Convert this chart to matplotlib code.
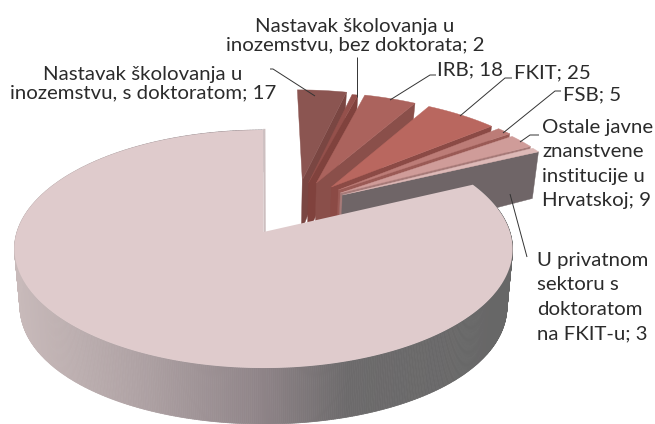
import numpy as np
import matplotlib
matplotlib.use("Agg")
import matplotlib.pyplot as plt
from matplotlib.colors import LinearSegmentedColormap
from matplotlib.collections import PolyCollection

small_labels = ["Nastavak školovanja u\ninozemstvu, s doktoratom; 17",
                "Nastavak školovanja u\ninozemstvu, bez doktorata; 2",
                "IRB; 18", "FKIT; 25", "FSB; 5",
                "Ostale javne\nznanstvene\ninstitucije u\nHrvatskoj; 9",
                "U privatnom\nsektoru s\ndoktoratom\nna FKIT-u; 3"]
small_values = [17, 2, 18, 25, 5, 9, 3]
big_value = 362

# styling
top_colors = ["#8B5551", "#94504B", "#AB635D", "#B9675F", "#BC7C77", "#CF9C99", "#DDB9B7"]
wall_colors = ["#7A4642", "#80423D", "#8A4F4A", "#8B4A45", "#9A5A55", "#A67A78", "#6F6567"]
big_color = "#DFCBCC"
explode_u = [.181, .207, .241, .304, .333, .34, .348]
explode_v = [.476, .447, .447, .408, .38, .351, .332]
big_explode = (0.012, 0.0)

CX, CY, RX, RY, K, SHRINK = 260.5, 232, 246.5, 116.6, 1 / 7, 0.978


def depth(v):
    return 56.1 - 6.97 * v - 7.09 * v * v


def project(u, v, z=0.0):
    u, v = np.asarray(u, float), np.asarray(v, float)
    s = 1 / (1 + K * v)
    return (CX + RX * u * s * (1 - (1 - SHRINK) * z),
            CY - RY * v * s + z * depth(v))


def sector(a0, a1, offset, z=0.0, n=60):
    th = np.radians(np.linspace(a0, a1, n))
    u = np.r_[offset[0], offset[0] + np.cos(th)]
    v = np.r_[offset[1], offset[1] + np.sin(th)]
    return np.column_stack(project(u, v, z))


plt.rcParams["font.family"] = ["Lato", "DejaVu Sans"]
fig = plt.figure(figsize=(6.55, 4.24), dpi=100)
ax = fig.add_axes([0, 0, 1, 1])
ax.set_xlim(0, 655)
ax.set_ylim(424, 0)
ax.axis("off")

total = sum(small_values) + big_value
deg = 360 / total
angle = 90.0
for i, val in enumerate(small_values):
    a0, a1 = angle, angle - val * deg
    off = (explode_u[i], explode_v[i])
    ox, oy = project(off[0], off[1], 0)
    ex, ey = project(off[0] + np.cos(np.radians(a1)), off[1] + np.sin(np.radians(a1)), 0)
    ox2, oy2 = project(off[0], off[1], 1)
    ex2, ey2 = project(off[0] + np.cos(np.radians(a1)), off[1] + np.sin(np.radians(a1)), 1)
    ax.fill([ox, ex, ex2, ox2], [oy, ey, ey2, oy2], color=wall_colors[i], lw=0.3, zorder=2 + i)
    ax.fill(*sector(a0, a1, off).T, color=top_colors[i], lw=0.3, zorder=2 + i)
    angle = a1

# large slice: side wall with gradient, then the top
a_start = angle
a_end = angle - big_value * deg
cmap = LinearSegmentedColormap.from_list(
    "side", [(0, "#C8BABA"), (0.25, "#AFA2A4"), (0.5, "#8F8488"), (0.68, "#6C6A6B"), (1, "#676767")])
ths = np.linspace(a_start, a_end, 720)
polys, cols = [], []
for t0, t1 in zip(ths[:-1], ths[1:]):
    r0, r1 = np.radians(t0), np.radians(t1)
    us = big_explode[0] + np.cos([r0, r1])
    vs = big_explode[1] + np.sin([r0, r1])
    x0, y0 = project(us, vs, 0)
    x1, y1 = project(us, vs, 1)
    polys.append([(x0[0], y0[0]), (x0[1], y0[1]), (x1[1], y1[1]), (x1[0], y1[0])])
    cols.append(cmap((np.mean(x0) - 14) / 493))
ax.add_collection(PolyCollection(polys, facecolors=cols, edgecolors=cols, linewidths=0.5, zorder=20))
ax.fill(*sector(a_start, a_end, big_explode, n=400).T, color=big_color, lw=0, zorder=21)
ex, ey = project([big_explode[0], big_explode[0]], [0, 1])
ax.plot(ex + 1.2, ey, color="#CDBFC0", lw=1.6, zorder=20.5)

# labels
fs = 14.7
col = "#2B2B2B"
ax.text(355, 36, small_labels[1], ha="center", va="center", fontsize=fs, color=col, linespacing=1.1, zorder=30)
ax.text(143, 84, small_labels[0], ha="center", va="center", fontsize=fs, color=col, linespacing=1.1, zorder=30)
ax.text(437, 70, small_labels[2], ha="left", va="center", fontsize=fs, color=col, zorder=30)
ax.text(514, 73, small_labels[3], ha="left", va="center", fontsize=fs, color=col, zorder=30)
ax.text(563, 95, small_labels[4], ha="left", va="center", fontsize=fs, color=col, zorder=30)
ax.text(542, 164, small_labels[5], ha="left", va="center", fontsize=fs, color=col, linespacing=1.53, zorder=30)
ax.text(537, 297, small_labels[6], ha="left", va="center", fontsize=fs, color=col, linespacing=1.53, zorder=30)

# leader lines
leaders = [
    ([270, 273, 315], [69, 69, 96]),
    ([357, 357], [57, 97]),
    ([436, 430, 390], [75, 75, 100]),
    ([512, 505, 460], [78, 78, 116]),
    ([561, 555, 503], [91, 91, 133]),
    ([539, 530, 520], [135, 135, 142]),
    ([510, 527], [194, 257]),
]
for xs, ys in leaders:
    ax.plot(xs, ys, color="#333333", lw=0.7, zorder=25, solid_capstyle="butt")

fig.savefig("out.png", dpi=100, facecolor="white")
